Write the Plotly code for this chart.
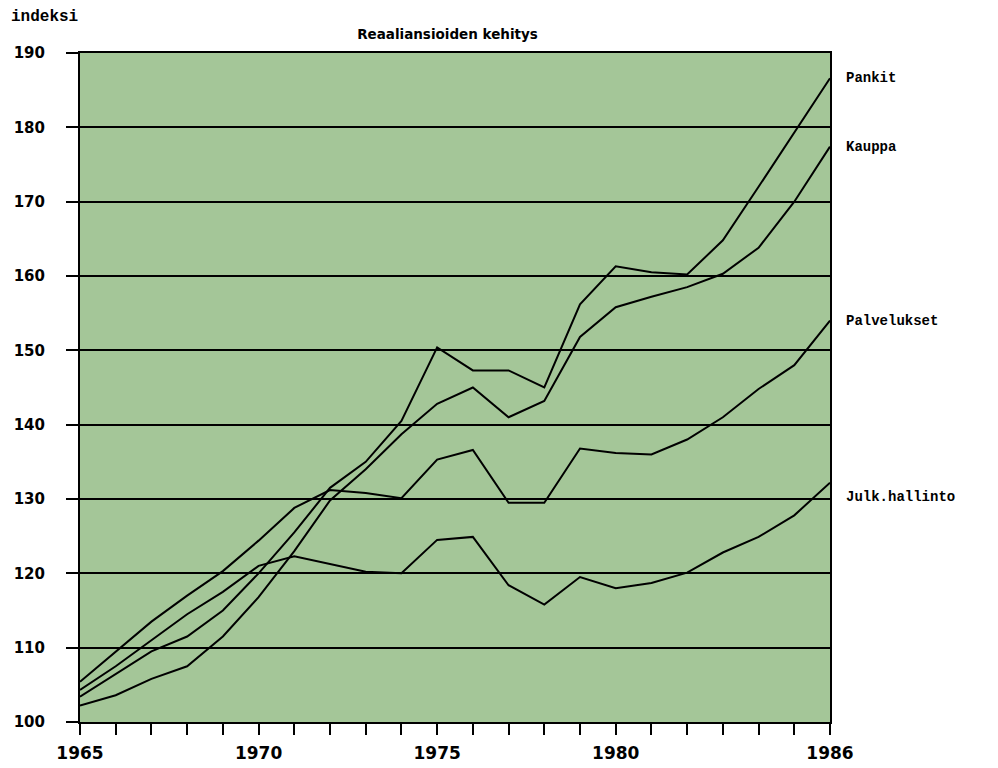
import plotly.graph_objects as go

# Years on the x axis
years = list(range(1965, 1987))

# Index values (1965 = ~100)
pankit = [103.4, 106.5, 109.5, 111.5, 115.0, 120.0, 125.5, 131.5, 135.0, 140.5, 150.4,
          147.3, 147.3, 145.0, 156.2, 161.3, 160.5, 160.2, 164.8, 172.0, 179.3, 186.6]
kauppa = [102.2, 103.6, 105.8, 107.5, 111.5, 116.8, 123.0, 129.8, 134.0, 138.7, 142.8,
          145.0, 141.0, 143.2, 151.8, 155.8, 157.2, 158.5, 160.3, 163.8, 170.0, 177.4]
palvelukset = [105.4, 109.5, 113.5, 117.0, 120.3, 124.4, 128.8, 131.2, 130.8, 130.1, 135.3,
               136.6, 129.5, 129.5, 136.8, 136.2, 136.0, 138.0, 141.0, 144.8, 148.0, 154.0]
julk = [104.3, 107.5, 111.0, 114.5, 117.5, 121.0, 122.3, 121.3, 120.2, 120.0, 124.5,
        124.9, 118.4, 115.8, 119.5, 118.0, 118.7, 120.1, 122.8, 124.9, 127.8, 132.2]

series_names = ['Pankit', 'Kauppa', 'Palvelukset', 'Julk.hallinto']
series_values = [pankit, kauppa, palvelukset, julk]

y_ticks = [100, 110, 120, 130, 140, 150, 160, 170, 180, 190]
x_labels = {1965: '1965', 1970: '1970', 1975: '1975', 1980: '1980', 1986: '1986'}

fig = go.Figure()

# One black line per sector
for name, vals in zip(series_names, series_values):
    fig.add_trace(go.Scatter(x=years, y=vals, name=name, mode='lines',
                             line=dict(color='black', width=2),
                             showlegend=False))

# Sector names at the right hand end of each line
for name, vals in zip(series_names, series_values):
    fig.add_annotation(x=years[-1], y=vals[-1], text=name, showarrow=False,
                       xanchor='left', yanchor='middle', xshift=14,
                       yshift=-14 if name == 'Julk.hallinto' else 0,
                       font=dict(family='Liberation Mono', size=14,
                                 color='black', weight='bold'))

fig.add_annotation(x=0.0, y=1.0, xref='paper', yref='paper', xshift=-71, yshift=25,
                   text='indeksi', showarrow=False, xanchor='left', yanchor='bottom',
                   font=dict(family='Liberation Mono', size=16, color='black',
                             weight='bold'))

fig.update_layout(
    title=dict(text='Reaaliansioiden kehitys', xref='paper', x=0.49, xanchor='center',
               yref='container', y=0.965, yanchor='middle',
               font=dict(family='DejaVu Sans', size=13.5, color='black',
                         weight='bold')),
    width=990, height=760,
    margin=dict(l=72, r=168, t=45, b=46),
    paper_bgcolor='white',
    plot_bgcolor='#a4c698',
    xaxis=dict(
        range=[1965, 1986],
        tickvals=years,
        ticktext=[x_labels.get(y, '') for y in years],
        ticks='outside', ticklen=11, tickwidth=2, tickcolor='black',
        showline=True, linecolor='black', linewidth=2, mirror=True,
        showgrid=False, zeroline=False, automargin=False,
        ticklabelstandoff=4,
        tickfont=dict(family='DejaVu Sans', size=17, color='black',
                      weight='bold'),
    ),
    yaxis=dict(
        range=[100, 190],
        tickvals=y_ticks,
        ticks='outside', ticklen=12, tickwidth=2, tickcolor='black',
        showline=True, linecolor='black', linewidth=2, mirror=True,
        showgrid=True, gridcolor='black', gridwidth=2, zeroline=False,
        ticklabelstandoff=18, automargin=False,
        tickfont=dict(family='DejaVu Sans', size=15, color='black',
                      weight='bold'),
    ),
)

fig.write_html("out.html")
